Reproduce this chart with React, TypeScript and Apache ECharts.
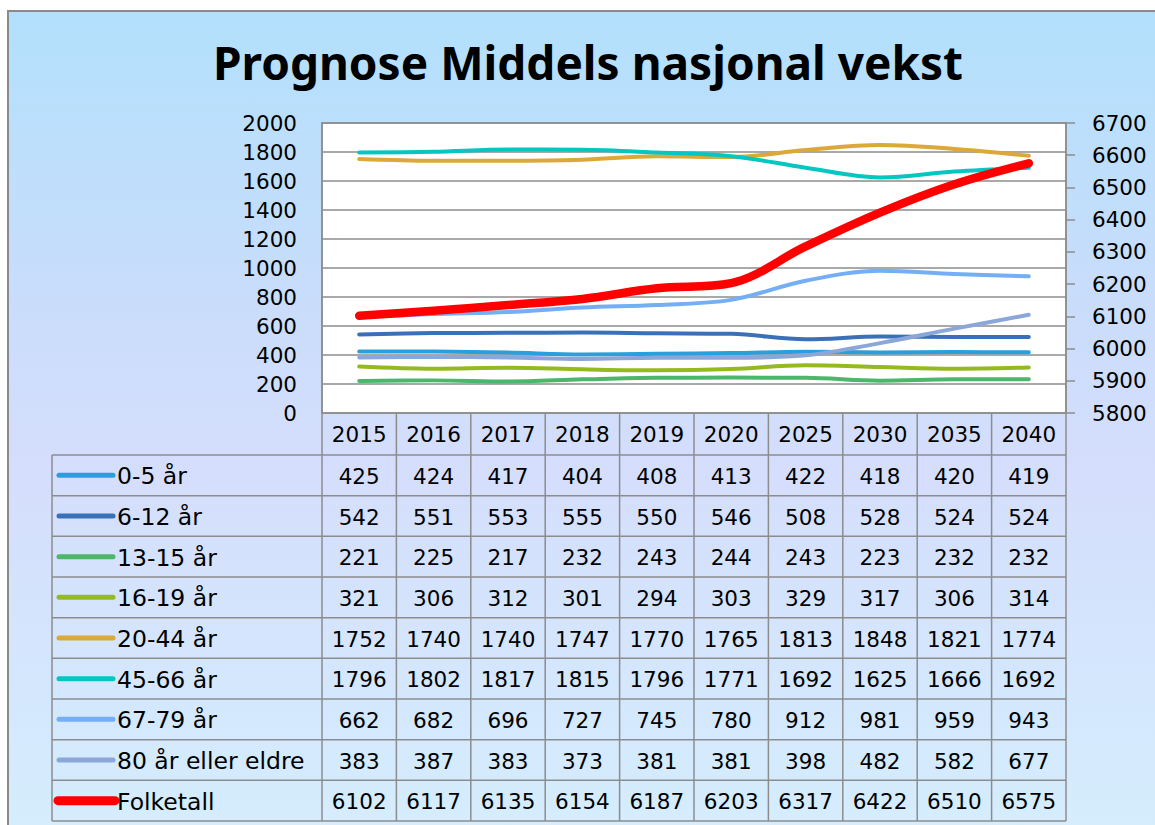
import React, { useEffect, useRef } from 'react';
import * as echarts from 'echarts';

const titleText = 'Prognose Middels nasjonal vekst';
const categories = ['2015', '2016', '2017', '2018', '2019', '2020', '2025', '2030', '2035', '2040'];
const age0to5 = [425, 424, 417, 404, 408, 413, 422, 418, 420, 419];
const age6to12 = [542, 551, 553, 555, 550, 546, 508, 528, 524, 524];
const age13to15 = [221, 225, 217, 232, 243, 244, 243, 223, 232, 232];
const age16to19 = [321, 306, 312, 301, 294, 303, 329, 317, 306, 314];
const age20to44 = [1752, 1740, 1740, 1747, 1770, 1765, 1813, 1848, 1821, 1774];
const age45to66 = [1796, 1802, 1817, 1815, 1796, 1771, 1692, 1625, 1666, 1692];
const age67to79 = [662, 682, 696, 727, 745, 780, 912, 981, 959, 943];
const age80plus = [383, 387, 383, 373, 381, 381, 398, 482, 582, 677];
const folketall = [6102, 6117, 6135, 6154, 6187, 6203, 6317, 6422, 6510, 6575];
const seriesNames = ['0-5 år', '6-12 år', '13-15 år', '16-19 år', '20-44 år', '45-66 år', '67-79 år', '80 år eller eldre', 'Folketall'];
const seriesColors = ['#2A9FDD', '#3A70B8', '#4CB66A', '#95BA1F', '#DBA83A', '#05C6C0', '#74AEF5', '#8BA6D9', '#FF0000'];

export default function App() {
  const ref = useRef<HTMLDivElement>(null);
  useEffect(() => {
    if (!ref.current) return;
    const chart = echarts.init(ref.current, null, { renderer: 'svg' });
    const font = 'DejaVu Sans';
    const titleFont = 'Noto Sans';
    const gridL = 322, gridR = 1066, gridT = 123, gridB = 413;
    const colW = (gridR - gridL) / categories.length;
    const tableL = 52, rowTop = 455, tableBottom = 821;
    const allData = [age0to5, age6to12, age13to15, age16to19, age20to44, age45to66, age67to79, age80plus, folketall];
    const rowH = (tableBottom - rowTop) / allData.length;
    const lineColor = '#8c8c8c';

    const graphics: any[] = [];
    graphics.push({
      type: 'text', x: 588, y: 62, silent: true,
      style: { text: titleText, textAlign: 'center', textVerticalAlign: 'middle', font: `bold 46px "${titleFont}"`, fill: '#000' },
    });
    for (let i = 0; i <= categories.length; i++) {
      const x = gridL + i * colW;
      graphics.push({ type: 'line', silent: true, shape: { x1: x, y1: gridB, x2: x, y2: tableBottom }, style: { stroke: lineColor, lineWidth: 1.5 } });
    }
    graphics.push({ type: 'line', silent: true, shape: { x1: tableL, y1: rowTop, x2: tableL, y2: tableBottom }, style: { stroke: lineColor, lineWidth: 1.5 } });
    for (let r = 0; r <= allData.length; r++) {
      const y = rowTop + r * rowH;
      graphics.push({ type: 'line', silent: true, shape: { x1: tableL, y1: y, x2: gridR, y2: y }, style: { stroke: lineColor, lineWidth: 1.5 } });
    }
    allData.forEach((arr, r) => {
      const cy = rowTop + (r + 0.5) * rowH;
      const isMain = r === allData.length - 1;
      graphics.push({
        type: 'line', silent: true,
        shape: { x1: isMain ? 58 : 59, y1: cy, x2: isMain ? 115 : 113, y2: cy },
        style: { stroke: seriesColors[r], lineWidth: isMain ? 9 : 5, lineCap: 'round' },
      });
      graphics.push({
        type: 'text', silent: true, x: 117, y: cy + 1,
        style: { text: seriesNames[r], textAlign: 'left', textVerticalAlign: 'middle', font: `23.5px "${font}"`, fill: '#000' },
      });
      arr.forEach((v, c) => {
        graphics.push({
          type: 'text', silent: true, x: gridL + (c + 0.5) * colW, y: cy + 1,
          style: { text: String(v), textAlign: 'center', textVerticalAlign: 'middle', font: `21.5px "${font}"`, fill: '#000' },
        });
      });
    });

    const series: any[] = allData.map((arr, i) => {
      const isMain = i === allData.length - 1;
      return {
        name: seriesNames[i],
        type: 'line',
        yAxisIndex: isMain ? 1 : 0,
        data: arr,
        smooth: 0.35,
        showSymbol: false,
        symbol: 'none',
        z: isMain ? 5 : 3,
        lineStyle: { color: seriesColors[i], width: isMain ? 8.5 : 4, cap: 'round', join: 'round' },
        itemStyle: { color: seriesColors[i] },
      };
    });

    const plain = (v: number) => String(v);

    chart.setOption({
      animation: false,
      backgroundColor: 'transparent',
      textStyle: { fontFamily: font },
      grid: {
        left: gridL, top: gridT, width: gridR - gridL, height: gridB - gridT,
        show: true, backgroundColor: '#ffffff', borderColor: lineColor, borderWidth: 1.5,
      },
      xAxis: {
        type: 'category', data: categories, boundaryGap: true,
        axisLine: { show: false }, axisTick: { show: false },
        axisLabel: { fontSize: 21.5, color: '#000', margin: 10, fontFamily: font },
        splitLine: { show: false },
      },
      yAxis: [
        {
          type: 'value', min: 0, max: 2000, interval: 200, position: 'left',
          axisLine: { show: true, lineStyle: { color: lineColor, width: 1.5 } },
          axisTick: { show: false },
          axisLabel: { fontSize: 21.5, color: '#000', margin: 25, fontFamily: font, formatter: plain },
          splitLine: { show: true, lineStyle: { color: lineColor, width: 1.5 } },
        },
        {
          type: 'value', min: 5800, max: 6700, interval: 100, position: 'right',
          axisLine: { show: true, lineStyle: { color: lineColor, width: 1.5 } },
          axisTick: { show: true, length: 9, lineStyle: { color: lineColor, width: 1.5 } },
          axisLabel: { fontSize: 21.5, color: '#000', margin: 26, fontFamily: font, formatter: plain },
          splitLine: { show: false },
        },
      ],
      graphic: graphics,
      series,
    });
    return () => chart.dispose();
  }, []);

  return (
    <div style={{ position: 'fixed', left: 0, top: 0, width: 1155, height: 825, background: '#ffffff', overflow: 'hidden' }}>
      <div style={{
        position: 'absolute', left: 7, top: 10, width: 1170, height: 840, boxSizing: 'border-box',
        border: '2px solid #8a8a8a',
        background: 'linear-gradient(180deg, #B2E0FC 0%, #C9DDFB 35%, #D5DEFC 55%, #D4E7FD 80%, #D5EEFD 100%)',
      }} />
      <div ref={ref} style={{ position: 'absolute', left: 0, top: 0, width: 1155, height: 825 }} />
    </div>
  );
}
